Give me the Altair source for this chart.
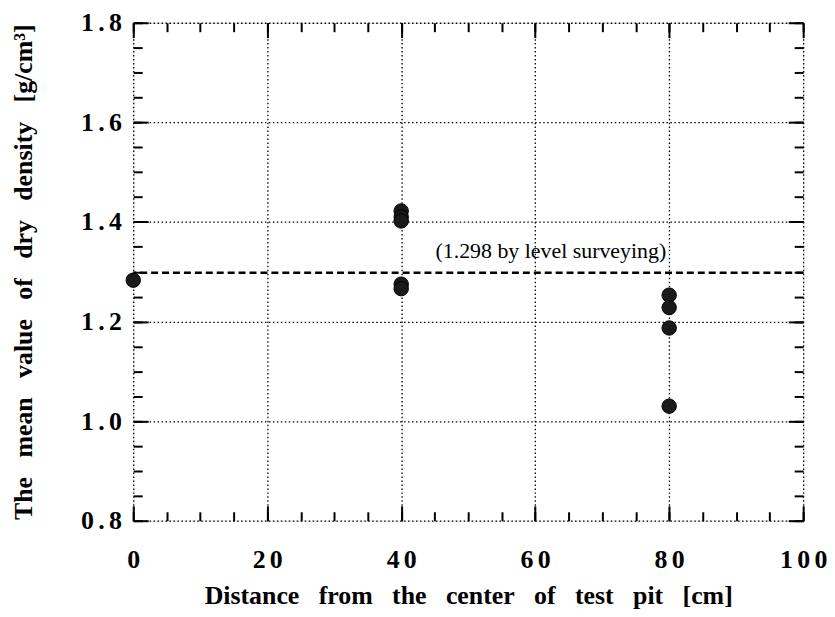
import altair as alt
import pandas as pd

# ---- data ----
distance_cm = [0, 40, 40, 40, 40, 40, 80, 80, 80, 80]
dry_density = [1.283, 1.422, 1.410, 1.402, 1.275, 1.266, 1.253, 1.228, 1.187, 1.030]
ref_value = 1.298
ref_label = "(1.298 by level surveying)"
ref_label_x = 80
ref_label_y = 1.341
x_major = [0, 20, 40, 60, 80, 100]
x_minor = [0, 5, 10, 15, 20, 25, 30, 35, 40, 45, 50, 55, 60, 65, 70, 75, 80, 85, 90, 95, 100]
y_major = [0.8, 1.0, 1.2, 1.4, 1.6, 1.8]
y_minor = [0.8, 0.85, 0.9, 0.95, 1.0, 1.05, 1.1, 1.15, 1.2, 1.25, 1.3, 1.35, 1.4,
           1.45, 1.5, 1.55, 1.6, 1.65, 1.7, 1.75, 1.8]
x_title = "\u2002\u2005".join(["Distance", "from", "the", "center", "of", "test", "pit", "[cm]"])
y_title = "\u2002\u2005".join(["The", "mean", "value", "of", "dry", "density", "[g/cm\u00b3]"])

FONT = "Liberation Serif"
W, H = 674, 501

sx = alt.Scale(domain=[0, 100], nice=False, zero=False)
sy = alt.Scale(domain=[0.8, 1.8], nice=False, zero=False)

df = pd.DataFrame({"d": distance_cm, "rho": dry_density})

main_x = alt.Axis(orient="bottom", values=x_major, ticks=False, domain=False,
                  labelPadding=26, labelFont=FONT, labelFontSize=26, labelFontWeight="bold",
                  labelColor="black", labelFlush=False,
                  labelExpr="join(split(datum.label, ''), '\u2006')",
                  grid=True, gridColor="black", gridDash=[1.5, 2.5], gridWidth=1.3,
                  title=x_title, titleFont=FONT, titleFontSize=26, titleFontWeight="bold",
                  titleColor="black", titlePadding=10)
main_y = alt.Axis(orient="left", values=y_major, ticks=False, domain=False,
                  labelPadding=12, labelFont=FONT, labelFontSize=26, labelFontWeight="bold",
                  labelColor="black", format=".1f", labelFlush=False,
                  labelExpr="join(split(datum.label, ''), '\u2006')",
                  grid=True, gridColor="black", gridDash=[1.5, 2.5], gridWidth=1.3,
                  title=y_title, titleFont=FONT, titleFontSize=26, titleFontWeight="bold",
                  titleColor="black", titlePadding=44)

points = alt.Chart(df).mark_circle(size=210, color="#1a1a1a", opacity=1,
                                   stroke="black", strokeWidth=1).encode(
    x=alt.X("d:Q", scale=sx, axis=main_x),
    y=alt.Y("rho:Q", scale=sy, axis=main_y),
)


def tick_axis(orient, values, size):
    return alt.Axis(orient=orient, values=values, tickSize=size, offset=-size,
                    labels=False, domain=False, grid=False, ticks=True, title=None,
                    tickColor="black", tickWidth=2)


def axis_layer(xo, yo, xv, yv, size):
    return alt.Chart(df).mark_point(opacity=0).encode(
        x=alt.X("d:Q", scale=sx, axis=tick_axis(xo, xv, size)),
        y=alt.Y("rho:Q", scale=sy, axis=tick_axis(yo, yv, size)),
    )


t1 = axis_layer("bottom", "left", x_major, y_major, 15)
t2 = axis_layer("bottom", "left", x_minor, y_minor, 9)
t3 = axis_layer("top", "right", x_major, y_major, 15)
t4 = axis_layer("top", "right", x_minor, y_minor, 9)

rule = alt.Chart(pd.DataFrame({"v": [ref_value]})).mark_rule(
    strokeDash=[7, 4], strokeWidth=2.5, color="black").encode(
    y=alt.Y("v:Q", scale=sy, axis=None))

label = alt.Chart(pd.DataFrame({"x": [ref_label_x], "y": [ref_label_y], "t": [ref_label]})).mark_text(
    align="right", dx=-3, baseline="middle", font=FONT, fontSize=22, color="black").encode(
    x=alt.X("x:Q", scale=sx, axis=None),
    y=alt.Y("y:Q", scale=sy, axis=None),
    text="t:N")

chart = alt.layer(points, rule, label, t1, t2, t3, t4).resolve_axis(
    x="independent", y="independent"
).properties(
    width=W, height=H,
    padding={"left": 2, "top": 0, "right": 0, "bottom": 0},
).configure_view(stroke="black", strokeWidth=2.5).configure(background="white")

chart.save("out.html", embed_options={"renderer": "svg", "actions": False})
